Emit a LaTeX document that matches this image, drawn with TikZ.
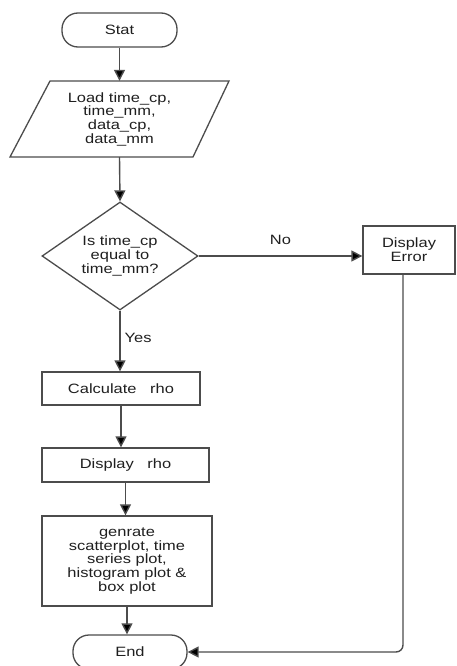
\documentclass[tikz,border=0pt]{standalone}
\usepackage{fontspec}
\setmainfont{Liberation Sans}[FakeStretch=1.22]
\usetikzlibrary{shapes.geometric,arrows.meta,calc}
\definecolor{linegray}{gray}{0.3}
\definecolor{txt}{gray}{0.12}
\begin{document}
\begin{tikzpicture}[x=1pt,y=-1pt,
  every node/.style={font=\fontsize{13.5}{13.7}\selectfont, text=txt, align=center, inner sep=0pt},
  term/.style={draw=linegray, line width=1.3pt, rectangle, rounded corners=16pt},
  proc/.style={draw=linegray, line width=1.3pt, rectangle},
  decis/.style={draw=linegray, line width=1.3pt, diamond, aspect=1.44},
  flow/.style={draw=linegray, line width=1.4pt, -{Triangle[length=11pt,width=11pt,fill=black]}},
  lbl/.style={font=\fontsize{13.5}{13.7}\selectfont}
]
\useasboundingbox (0,0) rectangle (456,666);
\fill[white] (0,0) rectangle (456,666);

\node[term, minimum width=115pt, minimum height=34pt] (stat) at (119.5,30) {Stat};
\node[minimum width=100pt, minimum height=76pt] (load) at (119.5,119) {Load time\_cp,\\time\_mm,\\data\_cp,\\data\_mm};
\draw[linegray, line width=1.3pt] (50,81) -- (229,81) -- (193,157) -- (10,157) -- cycle;
\node[decis, minimum width=156pt, minimum height=108pt] (dec) at (120,256) {Is time\_cp\\equal to\\time\_mm?};
\node[proc, minimum width=92pt, minimum height=48pt] (err) at (409,250) {Display\\Error};
\node[proc, minimum width=158pt, minimum height=33pt] (calc) at (121,388.5) {Calculate\hspace{9pt} rho};
\node[proc, minimum width=167pt, minimum height=34pt] (disp) at (125.5,465) {Display\hspace{9pt} rho};
\node[proc, minimum width=170pt, minimum height=90pt] (gen) at (127,561) {genrate\\scatterplot, time\\series plot,\\histogram plot \&\\box plot};
\node[term, minimum width=114pt, minimum height=34pt] (end) at (130,652) {End};

\coordinate (errdown) at ($(err.south)+(-6,0)$);

\draw[flow] (stat.south) -- (load.north);
\draw[flow] (load.south) -- (dec.north);
\draw[flow] (dec.east) -- node[lbl, above=11pt] (no) {No} (dec.east -| err.west);
\draw[flow] (dec.south) -- node[lbl, right=4pt, pos=0.45] (yes) {Yes} (dec.south |- calc.north);
\draw[flow] (calc.south) -- (calc.south |- disp.north);
\draw[flow] (disp.south) -- (disp.south |- gen.north);
\draw[flow] (gen.south) -- (gen.south |- end.north);
\draw[flow, rounded corners=7pt] (errdown) |- (end.east);
\end{tikzpicture}
\end{document}
